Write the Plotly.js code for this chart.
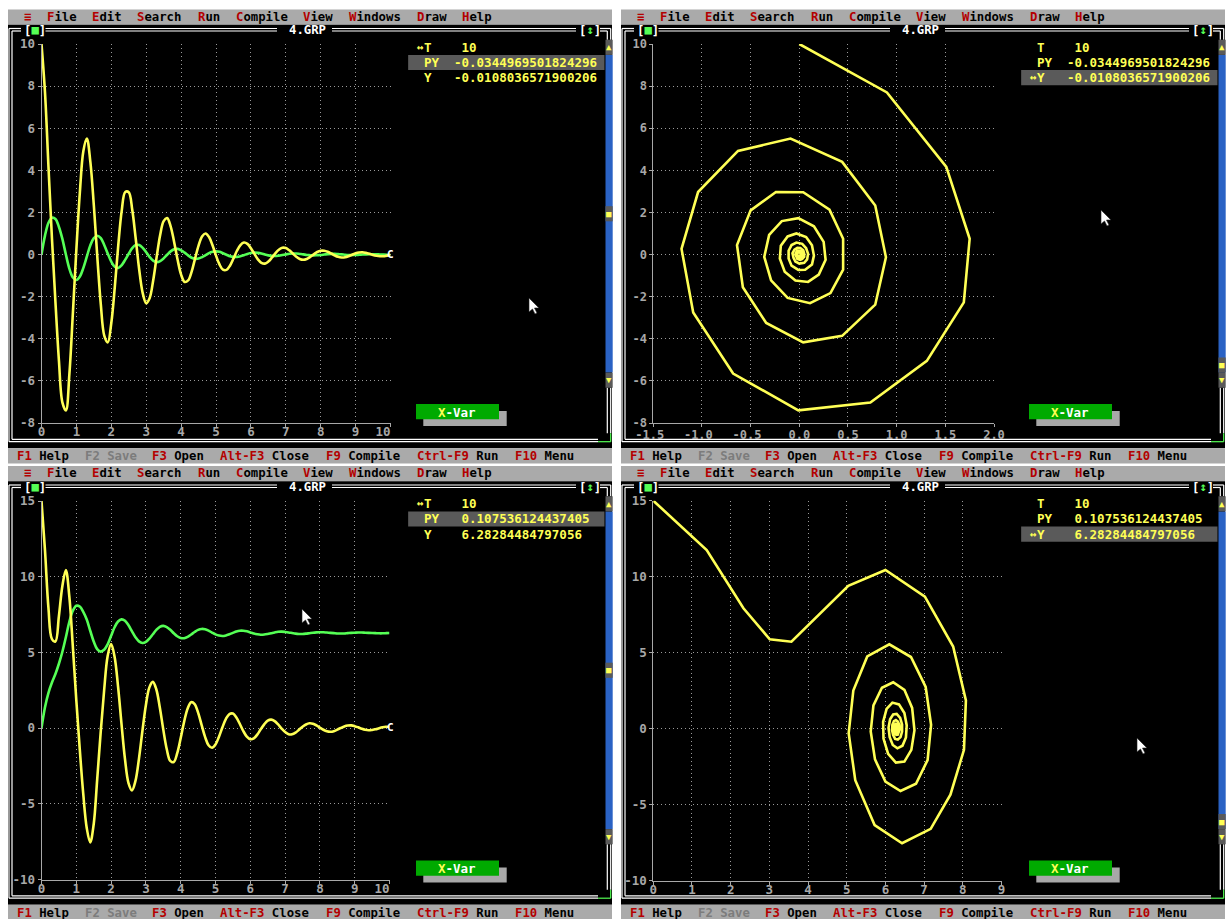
<!DOCTYPE html>
<html><head><meta charset="utf-8">
<script src="https://cdn.plot.ly/plotly-3.0.1.min.js"></script>
<style>html,body{margin:0;padding:0;background:#fff;overflow:hidden}#chart{width:1231px;height:919px}</style>
</head><body><div id="chart"></div>
<script>
// ---------------- data ----------------
const T = [0,0.1,0.2,0.3,0.4,0.5,0.6,0.7,0.8,0.9,1,1.1,1.2,1.3,1.4,1.5,1.6,1.7,1.8,1.9,2,2.1,2.2,2.3,2.4,2.5,2.6,2.7,2.8,2.9,3,3.1,3.2,3.3,3.4,3.5,3.6,3.7,3.8,3.9,4,4.1,4.2,4.3,4.4,4.5,4.6,4.7,4.8,4.9,5,5.1,5.2,5.3,5.4,5.5,5.6,5.7,5.8,5.9,6,6.1,6.2,6.3,6.4,6.5,6.6,6.7,6.8,6.9,7,7.1,7.2,7.3,7.4,7.5,7.6,7.7,7.8,7.9,8,8.1,8.2,8.3,8.4,8.5,8.6,8.7,8.8,8.9,9,9.1,9.2,9.3,9.4,9.5,9.6,9.7,9.8,9.9,10];

// run 1 (upper screens)
const PY_1 = [10.0,7.70,4.16,0.75,-2.27,-5.05,-7.03,-7.40,-5.65,-2.75,
 0.27,2.97,4.92,5.51,4.40,2.33,-0.13,-2.38,-3.86,-4.17,
 -3.25,-1.55,0.45,2.10,2.97,2.96,2.13,0.75,-0.72,-1.83,
 -2.31,-2.06,-1.23,-0.11,0.93,1.59,1.73,1.34,0.60,-0.25,
 -0.95,-1.30,-1.23,-0.82,-0.19,0.42,0.86,1.00,0.83,0.44,
 -0.05,-0.47,-0.72,-0.73,-0.53,-0.19,0.18,0.45,0.57,0.51,
 0.30,0.03,-0.23,-0.39,-0.43,-0.33,-0.15,0.06,0.23,0.32,
 0.31,0.20,0.05,-0.10,-0.21,-0.25,-0.21,-0.11,0.01,0.12,
 0.18,0.18,0.13,0.05,-0.04,-0.11,-0.14,-0.13,-0.08,-0.01,
 0.06,0.10,0.11,0.08,0.04,-0.02,-0.06,-0.08,-0.08,-0.05,
 -0.034];
const Y_1 = [0,0.90,1.51,1.75,1.69,1.31,0.73,-0.01,-0.68,-1.09,
 -1.21,-1.04,-0.63,-0.09,0.44,0.78,0.89,0.78,0.44,0.04,
 -0.34,-0.58,-0.64,-0.50,-0.24,0.04,0.31,0.45,0.45,0.32,
 0.11,-0.12,-0.29,-0.36,-0.31,-0.18,-0.01,0.15,0.25,0.27,
 0.20,0.09,-0.04,-0.15,-0.20,-0.19,-0.12,-0.03,0.07,0.13,
 0.15,0.13,0.06,-0.01,-0.08,-0.11,-0.11,-0.08,-0.03,0.03,
 0.07,0.09,0.08,0.05,0.00,-0.04,-0.06,-0.07,-0.05,-0.02,
 0.01,0.04,0.05,0.05,0.03,0.01,-0.02,-0.03,-0.04,-0.03,
 -0.02,0.00,0.02,0.03,0.03,0.02,0.01,-0.01,-0.02,-0.02,
 -0.02,-0.01,0.00,0.01,0.015,0.016,0.012,0.005,-0.003,-0.009,
 -0.011];

// run 2 (lower screens)
const PY_2 = [15.0,11.75,7.92,5.88,5.72,7.40,9.39,10.44,8.68,5.40,
 1.85,-1.40,-4.35,-6.60,-7.55,-6.35,-3.40,-0.30,2.50,4.75,
 5.55,4.71,2.74,0.25,-2.07,-3.63,-4.11,-3.49,-2.03,-0.19,
 1.53,2.69,3.05,2.55,1.36,-0.10,-1.40,-2.17,-2.24,-1.66,
 -0.66,0.44,1.30,1.71,1.59,1.02,0.21,-0.58,-1.13,-1.30,
 -1.08,-0.57,0.06,0.61,0.93,0.96,0.70,0.27,-0.20,-0.56,
 -0.73,-0.68,-0.43,-0.08,0.25,0.49,0.56,0.46,0.24,-0.03,
 -0.26,-0.40,-0.41,-0.30,-0.11,0.09,0.24,0.32,0.29,0.18,
 0.03,-0.11,-0.21,-0.24,-0.20,-0.10,0.01,0.11,0.17,0.18,
 0.13,0.05,-0.04,-0.11,-0.14,-0.12,-0.08,-0.01,0.05,0.09,
 0.1075];
const Y_2 = [0,1.38,2.33,3.01,3.57,4.25,5.04,6.00,7.02,7.75,
 8.08,8.03,7.68,7.17,6.43,5.72,5.22,5.05,5.17,5.53,
 6.10,6.66,7.04,7.18,7.09,6.79,6.39,6.00,5.73,5.62,
 5.69,5.91,6.20,6.49,6.69,6.75,6.67,6.49,6.27,6.07,
 5.95,5.94,6.03,6.18,6.35,6.49,6.55,6.53,6.44,6.31,
 6.19,6.11,6.08,6.12,6.20,6.29,6.38,6.43,6.43,6.39,
 6.32,6.25,6.20,6.17,6.18,6.22,6.27,6.32,6.36,6.37,
 6.35,6.32,6.28,6.24,6.22,6.22,6.24,6.27,6.30,6.32,
 6.33,6.33,6.31,6.29,6.27,6.25,6.25,6.25,6.27,6.29,
 6.30,6.31,6.31,6.30,6.29,6.28,6.27,6.26,6.26,6.27,
 6.2828];

// tick labels
const NB = '\u00a0';
const tTicks = [0,1,2,3,4,5,6,7,8,9,10];
const tTickText = ['0','1','2','3','4','5','6','7','8','9','10' + NB + NB];
const y1Ticks = [-8,-6,-4,-2,0,2,4,6,8,10];
const y1TickText = ['-8','-6','-4','-2','0','2','4','6','8','10'];
const ph1XTicks = [-1.5,-1,-0.5,0,0.5,1,1.5,2];
const ph1XTickText = ['-1.5' + NB,'-1.0' + NB,'-0.5' + NB,'0.0','0.5','1.0','1.5','2.0'];
const y2Ticks = [-10,-5,0,5,10,15];
const y2TickText = ['-10','-5','0','5','10','15'];
const ph2XTicks = [0,1,2,3,4,5,6,7,8,9];
const ph2XTickText = ['0','1','2','3','4','5','6','7','8','9'];

// screen texts
const menuWords = ['≡','File','Edit','Search','Run','Compile','View','Windows','Draw','Help'];
const menuCols  = [2,5,11,17,25,30,39,45,54,60];
const statusKeys  = ['F1','F2','F3','Alt-F3','F9','Ctrl-F9','F10'];
const statusNames = ['Help','Save','Open','Close','Compile','Run','Menu'];
const statusCols  = [1,10,19,28,42,54,67];
const readNames = ['T','PY','Y'];
const read1 = [' 10','-0.0344969501824296','-0.0108036571900206'];
const read2 = [' 10',' 0.107536124437405',' 6.28284484797056'];
const windowTitle = '4.GRP';

// ---------------- drawing ----------------
const W = 1231, H = 919, CW = 7.55, RH = 15.13;
const X = p => p / W, Y = p => 1 - p / H;
const FONT = 'DejaVu Sans Mono, Liberation Mono, monospace';
const YEL = '#ffff55', GRN = '#55ff55', RED = '#b40000';
const shapes = [], ann = [];

function rect(x0, y0, x1, y1, color, layer) {
  shapes.push({type:'rect', xref:'paper', yref:'paper', x0:X(x0), x1:X(x1), y0:Y(y1), y1:Y(y0),
    fillcolor:color, line:{width:0}, layer: layer || 'below'});
}
function line(x0, y0, x1, y1, color, w) {
  shapes.push({type:'line', xref:'paper', yref:'paper', x0:X(x0), x1:X(x1), y0:Y(y0), y1:Y(y1),
    line:{color:color, width:w || 1.2}, layer:'below'});
}
function text(x, y, s, color, size, anchor) {
  ann.push({xref:'paper', yref:'paper', x:X(x), y:Y(y), text:s, showarrow:false,
    xanchor: anchor || 'left', yanchor:'middle', borderpad:0,
    font:{family:FONT, size:size || 12.5, color:color, weight:'bold'}});
}
function cursor(x, y) {
  const pts = [[0,0],[0,14],[3.5,11],[6,16],[8,15],[5.5,10],[10,10]];
  shapes.push({type:'path', xref:'paper', yref:'paper', layer:'above',
    path:'M' + pts.map(p => X(x + p[0]) + ',' + Y(y + p[1])).join('L') + 'Z',
    fillcolor:'#ffffff', line:{color:'#202020', width:0.6}});
}

const panels = [
  {ox:8,   oy:9.5, read:read1, sel:0, hl:1, thumb:13, cur:[529,298]},
  {ox:621, oy:9.5, read:read1, sel:2, hl:2, thumb:23, cur:[1101,210]},
  {ox:8,   oy:466, read:read2, sel:0, hl:1, thumb:13, cur:[302,609]},
  {ox:621, oy:466, read:read2, sel:2, hl:2, thumb:23, cur:[1137,738]}
];

panels.forEach((p, i) => {
  const ox = p.ox, oy = p.oy;
  const col = c => ox + c * CW;
  const rowTop = r => oy + r * RH;
  const rowMid = r => oy + r * RH + RH / 2;
  // menu bar
  rect(ox, rowTop(0), ox + 604, rowTop(1), '#aaaaaa');
  menuWords.forEach((w, k) => {
    const s = k === 0 ? '<span style="color:' + RED + '">' + w + '</span>'
      : '<span style="color:' + RED + '">' + w[0] + '</span>' + w.slice(1);
    text(col(menuCols[k]), oy + 7, s, '#000000', 12.3);
  });
  // window
  rect(ox, rowTop(1), ox + 604, rowTop(29), '#000000');
  // status bar
  rect(ox, rowTop(29), ox + 604, rowTop(30), '#aaaaaa');
  statusKeys.forEach((k, j) => {
    const dis = j === 1;
    const s = dis ? '<span style="color:#7c7c7c">' + k + ' ' + statusNames[j] + '</span>'
      : '<span style="color:' + RED + '">' + k + '</span> ' + statusNames[j];
    text(col(statusCols[j]), rowMid(29) + 0.5, s, '#000000', 12.3);
  });
  // frame (double lines)
  const oL = ox + 1, oT = oy + 19, oR = ox + 602.7, oB = oy + 432.2;
  const iL = ox + 4, iT = oy + 21.5, iR = ox + 599.3, iB = oy + 429.8;
  const gaps = [[ox + 13, ox + 37.5], [ox + 269, ox + 324], [ox + 568, ox + 592]];
  [[oT, oL, oR], [iT, iL, iR]].forEach(([yy, a, b]) => {
    let start = a;
    gaps.forEach(g => { line(start, yy, g[0], yy, '#ffffff'); start = g[1]; });
    line(start, yy, b, yy, '#ffffff');
  });
  line(oL, oT, oL, oB, '#ffffff'); line(iL, iT, iL, iB, '#ffffff');
  line(oL, oB, ox + 590, oB, '#ffffff'); line(iL, iB, ox + 590, iB, '#ffffff');
  line(oR, oT, oR, rowTop(2), '#ffffff'); line(iR, iT, iR, rowTop(2), '#ffffff');
  line(oR, rowTop(25), oR, rowTop(28), '#ffffff'); line(iR, rowTop(25), iR, rowTop(28), '#ffffff');
  line(ox + 590, oB, oR, oB, '#55ff55'); line(oR, rowTop(28), oR, oB, '#55ff55');
  // title and window buttons
  text(ox + 279.5, oy + 20.5, windowTitle, '#ffffff', 12.3);
  text(ox + 14.5, oy + 20.5, '[<span style="color:#55ff55">■</span>]', '#ffffff', 12.3);
  text(ox + 569.5, oy + 20.5, '[<span style="color:#55ff55">↕</span>]', '#ffffff', 12.3);
  // scroll bar
  const sx0 = ox + 597.5, sx1 = ox + 604.7;
  rect(sx0, rowTop(3), sx1, rowTop(24), '#2a62c4');
  rect(sx0, rowTop(2), sx1, rowTop(3), '#5a5a5a');
  rect(sx0, rowTop(24), sx1, rowTop(25), '#5a5a5a');
  rect(sx0, rowTop(p.thumb), sx1, rowTop(p.thumb + 1), '#5a5a5a');
  text((sx0 + sx1) / 2, rowMid(2), '▲', YEL, 9, 'center');
  text((sx0 + sx1) / 2, rowMid(24), '▼', YEL, 9, 'center');
  text((sx0 + sx1) / 2, rowMid(p.thumb), '■', YEL, 9, 'center');
  // variable readout
  rect(col(53), rowTop(2 + p.hl), col(79), rowTop(3 + p.hl), '#5a5a5a');
  readNames.forEach((nm, r) => {
    if (r === p.sel) text(col(54), rowMid(2 + r), '↔', YEL, 11);
    text(col(55), rowMid(2 + r), nm, YEL);
    text(col(59), rowMid(2 + r), p.read[r].replace(/ /g, NB), YEL);
  });
  // X-Var button
  rect(ox + 415.3, oy + 401.5, ox + 498.7, oy + 416.5, '#a8a8a8');
  rect(ox + 408, oy + 394.5, ox + 491, oy + 409.8, '#00aa00');
  text(ox + 429, oy + 402.5, '<span style="color:' + YEL + '">X</span>-Var', '#ffffff');
  cursor(p.cur[0], p.cur[1]);
});
// end-of-trace marks
text(390, 254, 'C', '#ffffff', 11, 'center');
text(390, 727, 'C', '#ffffff', 11, 'center');

// ---------------- axes ----------------
function axis(domPx, horiz, range, vals, txt, anchor, standoff, shift, fsize) {
  const dom = horiz ? [X(domPx[0]), X(domPx[1])] : [Y(domPx[1]), Y(domPx[0])];
  return {domain:dom, range:range, anchor:anchor, tickmode:'array', tickvals:vals, ticktext:txt,
    showgrid:true, gridcolor:'#9a9a9a', griddash:'1px,3px', gridwidth:1,
    zeroline:false, showline:true, linecolor:'#a8a8a8', linewidth:1,
    ticks:'outside', ticklen:3, tickcolor:'#a8a8a8', tickwidth:1,
    ticklabelstandoff: standoff !== undefined ? standoff : (horiz ? -6 : 0),
    ticklabelshift: shift || 0,
    tickfont:{family:FONT, size:fsize || 12.5, color:'#a8a8a8', weight:'bold'},
    fixedrange:true, automargin:false};
}

const layout = {
  width:W, height:H, margin:{l:0, r:0, t:0, b:0},
  paper_bgcolor:'#ffffff', plot_bgcolor:'#000000', showlegend:false,
  xaxis:  axis([41.5, 390.5], true, [0, 10], tTicks, tTickText, 'y'),
  yaxis:  axis([44, 423], false, [-8, 10], y1Ticks, y1TickText, 'x'),
  xaxis2: axis([653.3, 994], true, [-1.5, 2], ph1XTicks, ph1XTickText, 'y2', -2, 0, 12),
  yaxis2: axis([44, 423], false, [-8, 10], y1Ticks, y1TickText, 'x2', 0, -1.5, 12),
  xaxis3: axis([41.5, 389.5], true, [0, 10], tTicks, tTickText, 'y3'),
  yaxis3: axis([501, 879.5], false, [-10, 15], y2Ticks, y2TickText, 'x3'),
  xaxis4: axis([653.3, 1001.5], true, [0, 9], ph2XTicks, ph2XTickText, 'y4'),
  yaxis4: axis([500.7, 880.5], false, [-10, 15], y2Ticks, y2TickText, 'x4'),
  shapes:shapes, annotations:ann
};

const lw = 2.6;
const traces = [
  {x:T, y:Y_1, xaxis:'x', yaxis:'y', mode:'lines', name:'Y', line:{color:GRN, width:lw, shape:'spline', smoothing:1}},
  {x:T, y:PY_1, xaxis:'x', yaxis:'y', mode:'lines', name:'PY', line:{color:YEL, width:lw, shape:'spline', smoothing:1}},
  {x:Y_1, y:PY_1, xaxis:'x2', yaxis:'y2', mode:'lines', name:'PY vs Y', line:{color:YEL, width:lw}},
  {x:T, y:Y_2, xaxis:'x3', yaxis:'y3', mode:'lines', name:'Y', line:{color:GRN, width:lw, shape:'spline', smoothing:1}},
  {x:T, y:PY_2, xaxis:'x3', yaxis:'y3', mode:'lines', name:'PY', line:{color:YEL, width:lw, shape:'spline', smoothing:1}},
  {x:Y_2, y:PY_2, xaxis:'x4', yaxis:'y4', mode:'lines', name:'PY vs Y', line:{color:YEL, width:lw}}
];

Plotly.newPlot('chart', traces, layout, {displayModeBar:false, staticPlot:true});
</script>
</body></html>
